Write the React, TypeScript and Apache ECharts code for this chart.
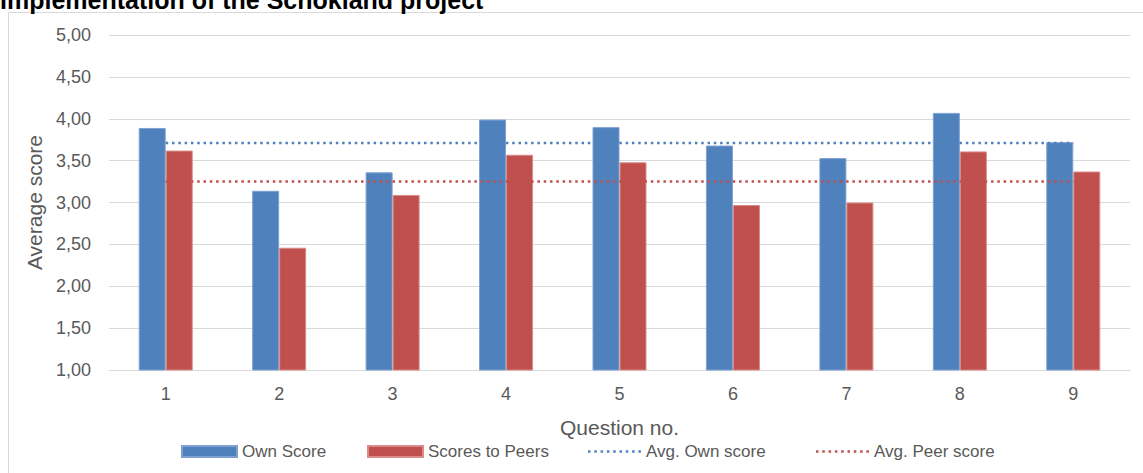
import React, { useEffect, useRef } from "react";
import * as echarts from "echarts";

const questions = ["1", "2", "3", "4", "5", "6", "7", "8", "9"];
const ownScore = [3.89, 3.14, 3.36, 3.99, 3.9, 3.68, 3.53, 4.07, 3.72];
const peerScore = [3.62, 2.46, 3.09, 3.57, 3.48, 2.97, 3.0, 3.61, 3.37];
const avgOwn = 3.71;
const avgPeer = 3.25;
const seriesNames = ["Own Score", "Scores to Peers", "Avg. Own score", "Avg. Peer score"];

const FONT = "Liberation Sans";
const TXT = "#595959";

// dotted-line legend icon: 9 small squares
const dotIcon =
  "path://" +
  Array.from({ length: 9 }, (_, k) => `M${(k * 6.3).toFixed(1)},0h2.5v2.5h-2.5z`).join(" ");

export default function App() {
  const ref = useRef<HTMLDivElement>(null);
  useEffect(() => {
    if (!ref.current) return;
    const chart = echarts.init(ref.current, undefined, { renderer: "svg" });
    const legendLefts = [176, 362, 583, 811];
    chart.setOption({
      animation: false,
      textStyle: { fontFamily: FONT },
      graphic: [
        {
          type: "rect",
          shape: { x: 8.5, y: 12.5, width: 1200, height: 500 },
          style: { fill: "none", stroke: "#d9d9d9", lineWidth: 1 },
          silent: true,
        },
        {
          type: "text",
          left: 0,
          top: -13,
          style: {
            text: "Implementation of the Schokland project",
            font: "bold 25px 'Liberation Sans'",
            fill: "#000",
          },
        },
      ],
      legend: seriesNames.map((n, i) => ({
        data: [n],
        left: legendLefts[i],
        top: 438,
        icon: i < 2 ? "rect" : dotIcon,
        itemWidth: i < 2 ? 55 : 53,
        itemHeight: i < 2 ? 11 : 2.5,
        itemGap: 0,
        textStyle: { color: TXT, fontSize: 17, fontFamily: FONT },
        selectedMode: false,
      })),
      grid: { left: 109, right: 13, top: 35, bottom: 103 },
      xAxis: {
        type: "category",
        data: questions,
        name: "Question no.",
        nameLocation: "middle",
        nameGap: 47,
        nameTextStyle: { color: TXT, fontSize: 21, fontFamily: FONT },
        axisLine: { show: true, lineStyle: { color: "#d9d9d9" } },
        axisTick: { show: false },
        axisLabel: { color: TXT, fontSize: 18, margin: 15, fontFamily: FONT },
      },
      yAxis: {
        type: "value",
        min: 1,
        max: 5,
        interval: 0.5,
        name: "Average score",
        nameLocation: "middle",
        nameGap: 62,
        nameTextStyle: { color: TXT, fontSize: 21, fontFamily: FONT },
        axisLine: { show: false },
        axisTick: { show: false },
        splitLine: { lineStyle: { color: "#d9d9d9", width: 1 } },
        axisLabel: {
          color: TXT,
          fontSize: 18,
          margin: 18,
          fontFamily: FONT,
          formatter: (v: number) => v.toFixed(2).replace(".", ","),
        },
      },
      series: [
        {
          name: seriesNames[0],
          type: "bar",
          data: ownScore,
          barWidth: 27,
          barGap: "0%",
          itemStyle: { color: "#4f81bd", borderColor: "#7ea1d2", borderWidth: 1 },
        },
        {
          name: seriesNames[1],
          type: "bar",
          data: peerScore,
          barWidth: 27,
          barGap: "0%",
          itemStyle: { color: "#c0504d", borderColor: "#d98b89", borderWidth: 1 },
        },
        {
          name: seriesNames[2],
          type: "line",
          data: questions.map(() => avgOwn),
          symbol: "none",
          z: 5,
          itemStyle: { color: "#4f81bd" },
          lineStyle: { color: "#4f81bd", width: 2.5, type: [2.5, 3.8] },
        },
        {
          name: seriesNames[3],
          type: "line",
          data: questions.map(() => avgPeer),
          symbol: "none",
          z: 5,
          itemStyle: { color: "#c0504d" },
          lineStyle: { color: "#c0504d", width: 2.5, type: [2.5, 3.8] },
        },
      ],
    });
    return () => chart.dispose();
  }, []);
  return (
    <div
      ref={ref}
      style={{ position: "fixed", left: 0, top: 0, width: 1143, height: 473, background: "#fff" }}
    />
  );
}
